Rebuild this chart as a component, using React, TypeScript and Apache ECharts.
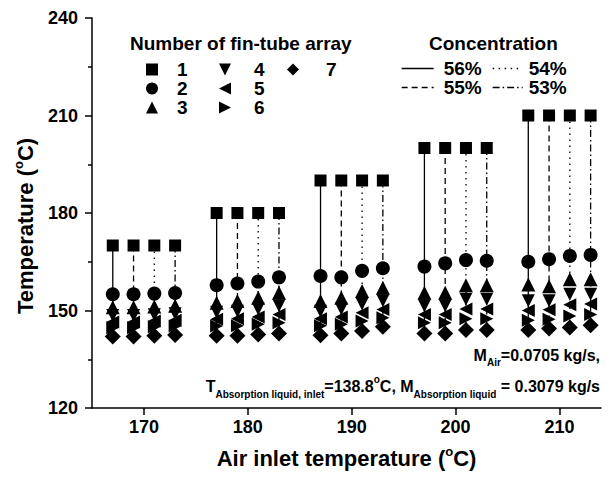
import React, { useEffect, useRef } from "react";
import * as echarts from "echarts";

// ---- data ----
const airTemps = [170, 180, 190, 200, 210];
const concentrations = ["56%", "55%", "54%", "53%"];
const arrayNames = ["1", "2", "3", "4", "5", "6", "7"];

// rows: concentration (56,55,54,53) ; columns: air inlet temperature
const fin1 = [
  [170, 180, 190, 200, 210],
  [170, 180, 190, 200, 210],
  [170, 180, 190, 200, 210],
  [170, 180, 190, 200, 210],
];
const fin2 = [
  [155.0, 157.8, 160.6, 163.5, 165.0],
  [155.0, 158.3, 160.2, 164.5, 165.8],
  [155.2, 158.9, 162.2, 165.5, 166.8],
  [155.4, 160.2, 163.0, 165.3, 167.1],
];
const fin3 = [
  [151.0, 152.4, 152.9, 155.5, 158.0],
  [151.0, 152.9, 153.9, 155.5, 157.5],
  [151.2, 153.9, 156.0, 157.8, 159.6],
  [151.5, 155.5, 157.0, 157.8, 159.6],
];
const fin4 = [
  [148.5, 149.5, 149.8, 151.5, 153.0],
  [148.5, 149.8, 150.5, 151.5, 153.0],
  [148.7, 150.5, 152.0, 153.5, 155.0],
  [149.0, 151.5, 153.0, 153.5, 155.0],
];
const fin5 = [
  [146.5, 147.3, 147.5, 148.8, 150.0],
  [146.5, 147.5, 148.0, 148.8, 150.2],
  [146.8, 148.0, 149.3, 150.5, 151.8],
  [147.0, 148.8, 150.3, 150.5, 152.0],
];
const fin6 = [
  [144.7, 145.2, 145.3, 146.2, 147.0],
  [144.7, 145.3, 145.8, 146.2, 147.3],
  [145.0, 145.8, 146.8, 147.5, 148.3],
  [145.2, 146.2, 147.8, 147.5, 148.8],
];
const fin7 = [
  [142.0, 142.2, 142.4, 142.9, 144.0],
  [142.0, 142.2, 142.9, 142.9, 144.5],
  [142.2, 142.6, 143.7, 144.0, 144.8],
  [142.5, 142.9, 145.0, 144.0, 145.5],
];
const finArrays = [fin1, fin2, fin3, fin4, fin5, fin6, fin7];

const xTicks = [170, 180, 190, 200, 210];

// ---- styling ----
const FONT = "'Liberation Sans', Arial, Helvetica, sans-serif";
const colOffset = [-3, -1, 1, 3];
const dashTypes: any[] = ["solid", [6, 4], [1.5, 4.5], [7, 3, 1.5, 3]];
const symbols = [
  "rect",
  "circle",
  "triangle",
  "path://M0,0 L10,0 L5,10 Z",
  "path://M10,0 L10,10 L0,5 Z",
  "path://M0,0 L10,5 L0,10 Z",
  "diamond",
];
const symbolSizes = [12, 14, 14, 13, 13, 13, 16];

export default function App() {
  const ref = useRef<HTMLDivElement>(null);
  useEffect(() => {
    document.body.style.margin = "0";
    const chart = echarts.init(ref.current!, null, { renderer: "svg" });

    const series: any[] = [];
    concentrations.forEach((conc, ci) => {
      airTemps.forEach((t, ti) => {
        const x = t + colOffset[ci];
        series.push({
          type: "line",
          name: conc,
          symbol: "none",
          silent: true,
          z: 1,
          lineStyle: { color: "#000", width: 1.3, type: dashTypes[ci] },
          itemStyle: { color: "#000" },
          data: finArrays.map((arr) => [x, arr[ci][ti]]),
        });
      });
    });
    finArrays.forEach((arr, ai) => {
      const data: number[][] = [];
      concentrations.forEach((_, ci) => {
        airTemps.forEach((t, ti) => {
          data.push([t + colOffset[ci], arr[ci][ti]]);
        });
      });
      series.push({
        type: "scatter",
        name: arrayNames[ai],
        symbol: symbols[ai],
        symbolSize: symbolSizes[ai],
        itemStyle: { color: "#000", opacity: 1 },
        z: 3,
        silent: true,
        data,
      });
    });

    const legendText = {
      fontFamily: FONT,
      fontWeight: "bold",
      fontSize: 19,
      color: "#000",
    };
    const finLegend = (names: string[], left: number, pad: number) => ({
      data: names,
      orient: "vertical",
      left,
      top: 60,
      padding: 0,
      itemWidth: 12,
      itemHeight: 12,
      itemGap: 0,
      selectedMode: false,
      itemStyle: { opacity: 1 },
      textStyle: { ...legendText, padding: [0, 0, 0, pad] },
    });
    const concLegend = (names: string[], left: number, w: number, pad: number) => ({
      data: names,
      orient: "vertical",
      left,
      top: 59,
      padding: 0,
      itemWidth: w,
      itemHeight: 12,
      itemGap: 0,
      selectedMode: false,
      itemStyle: { opacity: 0, borderWidth: 0 },
      lineStyle: { width: 1.3 },
      textStyle: { ...legendText, padding: [0, 0, 0, pad] },
    });

    const sub = { fontFamily: FONT, fontWeight: "bold", fontSize: 10, lineHeight: 10, verticalAlign: "bottom", color: "#000" };
    const sup = { fontFamily: FONT, fontWeight: "bold", fontSize: 10, lineHeight: 10, verticalAlign: "top", color: "#000" };
    const main = { fontFamily: FONT, fontWeight: "bold", fontSize: 16, lineHeight: 25, color: "#000" };
    const axisNameRich = {
      a: { fontFamily: FONT, fontWeight: "bold", fontSize: 22, lineHeight: 26, color: "#000" },
      s: { fontFamily: FONT, fontWeight: "bold", fontSize: 13, lineHeight: 13, verticalAlign: "top", color: "#000" },
      g: { fontSize: 10, width: 26 },
    };

    chart.setOption({
      animation: false,
      backgroundColor: "#fff",
      title: [
        {
          text: "Number of fin-tube array",
          left: 130,
          top: 34,
          padding: 0,
          textStyle: { ...legendText },
        },
        {
          text: "Concentration",
          left: 429,
          top: 34,
          padding: 0,
          textStyle: { ...legendText },
        },
      ],
      legend: [
        finLegend(["1", "2", "3"], 146, 14),
        finLegend(["4", "5", "6"], 219, 18),
        finLegend(["7"], 287, 22),
        concLegend(["56%", "55%"], 401, 32, 5),
        concLegend(["54%", "53%"], 492, 30, 1),
      ],
      grid: { left: 92, top: 18, right: 7, bottom: 72, containLabel: false },
      xAxis: {
        type: "value",
        min: 165,
        max: 214,
        name: "{a|Air inlet temperature (}{s|o}{a|C)}",
        nameLocation: "middle",
        nameGap: 37,
        nameTextStyle: { rich: axisNameRich },
        axisLine: { lineStyle: { color: "#000", width: 1.5 } },
        axisTick: { show: true, length: 7, inside: false, customValues: xTicks, lineStyle: { color: "#000", width: 1.5 } },
        axisLabel: {
          customValues: xTicks,
          margin: 10,
          fontFamily: FONT,
          fontWeight: "bold",
          fontSize: 18,
          color: "#000",
        },
        splitLine: { show: false },
      },
      yAxis: {
        type: "value",
        min: 120,
        max: 240,
        interval: 30,
        name: "{a|Temperature (}{s|o}{a|C)}{g| }",
        nameLocation: "middle",
        nameGap: 54,
        nameTextStyle: { rich: axisNameRich },
        axisLine: { show: true, lineStyle: { color: "#000", width: 1.5 } },
        axisTick: { show: true, length: 7, inside: false, lineStyle: { color: "#000", width: 1.5 } },
        minorTick: { show: true, splitNumber: 2, length: 4, lineStyle: { color: "#000", width: 1.5 } },
        axisLabel: {
          margin: 14,
          fontFamily: FONT,
          fontWeight: "bold",
          fontSize: 18,
          color: "#000",
        },
        splitLine: { show: false },
      },
      graphic: [
        {
          type: "text",
          right: 8,
          top: 347,
          style: {
            text: "{m|M}{b|Air}{m|=0.0705 kg/s,}",
            rich: { m: main, b: sub },
          },
        },
        {
          type: "text",
          right: 8,
          top: 374,
          style: {
            text: "{m|T}{b|Absorption liquid, inlet}{m|=138.8}{p|o}{m|C, M}{b|Absorption liquid}{m| = 0.3079 kg/s}",
            rich: { m: main, b: sub, p: sup },
          },
        },
      ],
      series,
    });
    return () => chart.dispose();
  }, []);
  return <div ref={ref} style={{ width: 608, height: 480 }} />;
}
